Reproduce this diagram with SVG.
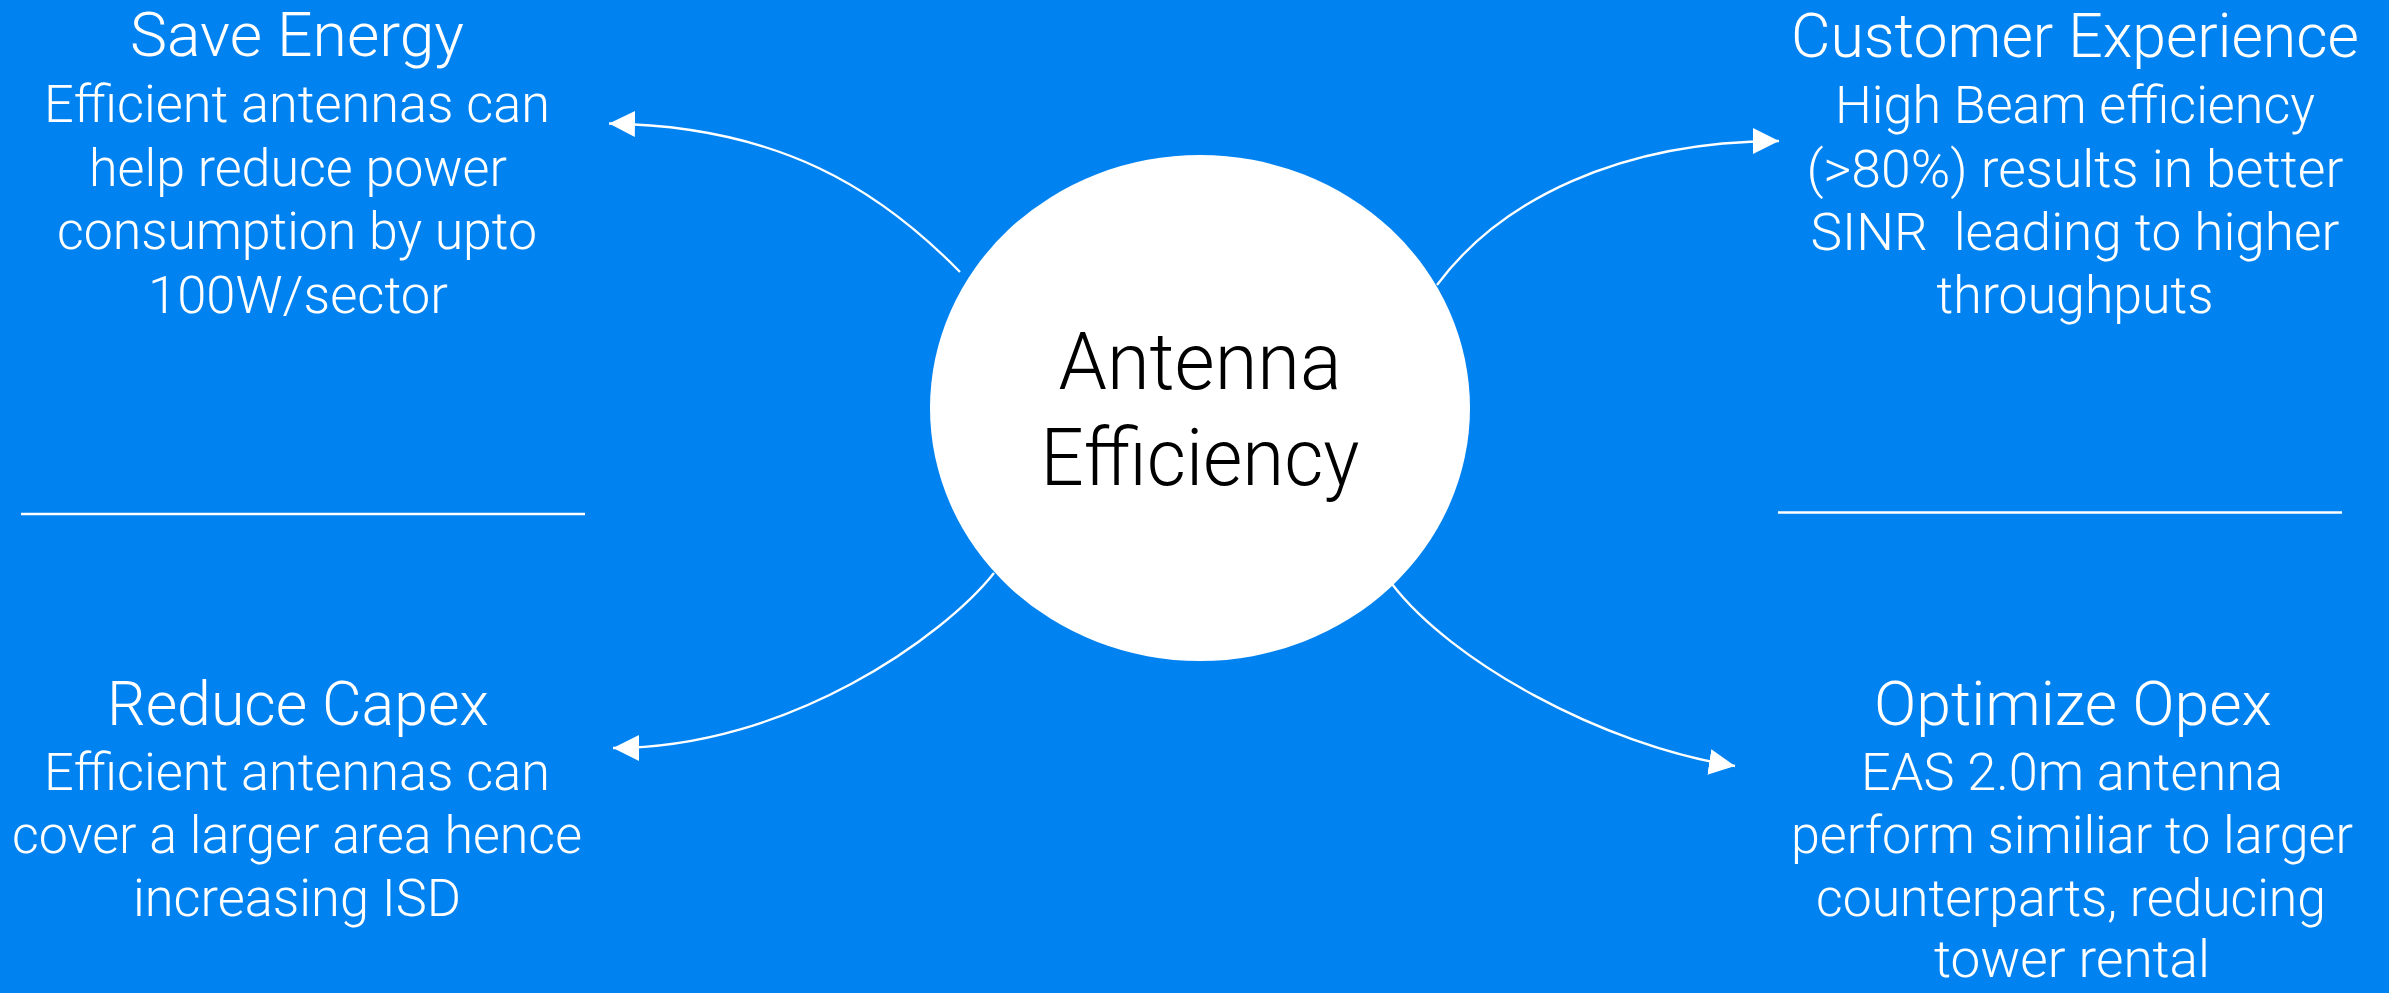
<svg xmlns="http://www.w3.org/2000/svg" width="2389" height="993" viewBox="0 0 2389 993">
<style>
.bg{fill:#0082F0}
.t{font-family:Roboto,"Liberation Sans",sans-serif;font-weight:300;fill:#fff;text-anchor:middle}
.h{font-size:62px}
.b{font-size:51px}
.c{font-family:Roboto,"Liberation Sans",sans-serif;font-weight:300;fill:#000;text-anchor:middle;font-size:80px}
.sep{stroke:#fff;stroke-width:2.5;fill:none}
.con{stroke:#fff;stroke-width:2.3;fill:none;marker-end:url(#ah)}
</style>
<defs>
<marker id="ah" markerUnits="userSpaceOnUse" markerWidth="27" markerHeight="27" refX="26" refY="13" orient="auto" viewBox="0 0 27 27">
<path d="M0,0 L26,13 L0,26 Z" fill="#fff"/>
</marker>
</defs>
<rect class="bg" x="0" y="0" width="2389" height="993"/>
<g id="connectors">
<path class="con" d="M960,272 C880,190 780,126 609,123.5"/>
<path class="con" d="M1437,285 C1500,200 1620,141 1779,141"/>
<path class="con" d="M994,573 C945,635 790,748 613,748"/>
<path class="con" d="M1392,584 C1450,660 1600,745 1735,766"/>
</g>
<g id="dividers">
<line class="sep" x1="21" y1="514" x2="585" y2="514"/>
<line class="sep" x1="1778" y1="512.5" x2="2342" y2="512.5"/>
</g>
<g id="center">
<ellipse cx="1200" cy="408" rx="270" ry="253" fill="#fff"/>
<text class="c" x="1200" y="389" textLength="283" lengthAdjust="spacingAndGlyphs">Antenna</text>
<text class="c" x="1200" y="485" textLength="319" lengthAdjust="spacingAndGlyphs">Efficiency</text>
</g>
<g id="save-energy">
<text class="t h" x="297" y="56" textLength="334" lengthAdjust="spacingAndGlyphs">Save Energy</text>
<text class="t b" x="297" y="122" textLength="506" lengthAdjust="spacingAndGlyphs">Efficient antennas can</text>
<text class="t b" x="298" y="186" textLength="418" lengthAdjust="spacingAndGlyphs">help reduce power</text>
<text class="t b" x="297" y="249" textLength="480" lengthAdjust="spacingAndGlyphs">consumption by upto</text>
<text class="t b" x="298" y="313" textLength="300" lengthAdjust="spacingAndGlyphs">100W/sector</text>
</g>
<g id="customer-experience">
<text class="t h" x="2075" y="57" textLength="568" lengthAdjust="spacingAndGlyphs">Customer Experience</text>
<text class="t b" x="2075" y="123" textLength="480" lengthAdjust="spacingAndGlyphs">High Beam efficiency</text>
<text class="t b" x="2075" y="187" textLength="537" lengthAdjust="spacingAndGlyphs">(&gt;80%) results in better</text>
<text class="t b" x="2075" y="250" textLength="529" lengthAdjust="spacingAndGlyphs" xml:space="preserve">SINR  leading to higher</text>
<text class="t b" x="2075" y="313" textLength="277" lengthAdjust="spacingAndGlyphs">throughputs</text>
</g>
<g id="reduce-capex">
<text class="t h" x="298" y="725" textLength="382" lengthAdjust="spacingAndGlyphs">Reduce Capex</text>
<text class="t b" x="297" y="790" textLength="506" lengthAdjust="spacingAndGlyphs">Efficient antennas can</text>
<text class="t b" x="297" y="853" textLength="570" lengthAdjust="spacingAndGlyphs">cover a larger area hence</text>
<text class="t b" x="297" y="916" textLength="328" lengthAdjust="spacingAndGlyphs">increasing ISD</text>
</g>
<g id="optimize-opex">
<text class="t h" x="2073" y="725" textLength="398" lengthAdjust="spacingAndGlyphs">Optimize Opex</text>
<text class="t b" x="2072" y="790" textLength="422" lengthAdjust="spacingAndGlyphs">EAS 2.0m antenna</text>
<text class="t b" x="2072" y="853" textLength="562" lengthAdjust="spacingAndGlyphs">perform similiar to larger</text>
<text class="t b" x="2071" y="916" textLength="510" lengthAdjust="spacingAndGlyphs">counterparts, reducing</text>
<text class="t b" x="2072" y="977" textLength="276" lengthAdjust="spacingAndGlyphs">tower rental</text>
</g>
</svg>
